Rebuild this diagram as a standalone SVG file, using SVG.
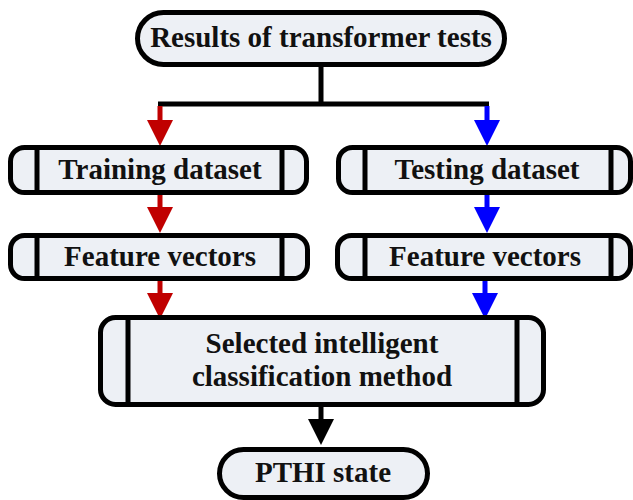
<svg xmlns="http://www.w3.org/2000/svg" width="633" height="500" viewBox="0 0 633 500">
  <style>
    .box { fill: #edf0f5; stroke: #000; stroke-width: 5; }
    .div { stroke: #000; stroke-width: 5; }
    .lbl { font-family: "Liberation Serif", "Times New Roman", serif; font-weight: bold; font-size: 29px; fill: #111; text-anchor: middle; }
    .ln { fill: none; stroke-width: 5; }
    .red { stroke: #c00000; }
    .blue { stroke: #0000ff; }
    .blk { stroke: #000; }
  </style>
  <defs>
    <marker id="ahRed" viewBox="0 0 26 26" markerWidth="26" markerHeight="26" markerUnits="userSpaceOnUse" refX="16" refY="13" orient="auto">
      <path d="M0,0 L26,13 L0,26 Z" fill="#c00000"/>
    </marker>
    <marker id="ahBlue" viewBox="0 0 26 26" markerWidth="26" markerHeight="26" markerUnits="userSpaceOnUse" refX="16" refY="13" orient="auto">
      <path d="M0,0 L26,13 L0,26 Z" fill="#0000ff"/>
    </marker>
    <marker id="ahBlack" viewBox="0 0 26 26" markerWidth="26" markerHeight="26" markerUnits="userSpaceOnUse" refX="16" refY="13" orient="auto">
      <path d="M0,0 L26,13 L0,26 Z" fill="#000"/>
    </marker>
  </defs>

  <g id="connectors">
    <path class="ln blk" d="M321,67 V104 M158,104 H489"/>
    <line class="ln red" x1="160" y1="106" x2="160" y2="136" marker-end="url(#ahRed)"/>
    <line class="ln blue" x1="487" y1="106" x2="487" y2="136" marker-end="url(#ahBlue)"/>
    <line class="ln red" x1="160" y1="195" x2="160" y2="223" marker-end="url(#ahRed)"/>
    <line class="ln blue" x1="487" y1="195" x2="487" y2="223" marker-end="url(#ahBlue)"/>
    <line class="ln red" x1="160" y1="281" x2="160" y2="309" marker-end="url(#ahRed)"/>
    <line class="ln blue" x1="485" y1="281" x2="485" y2="309" marker-end="url(#ahBlue)"/>
    <line class="ln blk" x1="321" y1="407" x2="321" y2="435" marker-end="url(#ahBlack)"/>
  </g>

  <g id="results">
    <rect class="box" x="137.5" y="12.5" width="367" height="52" rx="26"/>
    <text class="lbl" x="321" y="47">Results of transformer tests</text>
  </g>

  <g id="training">
    <rect class="box" x="10.5" y="147.5" width="296" height="45" rx="14"/>
    <line class="div" x1="37" y1="147.5" x2="37" y2="192.5"/>
    <line class="div" x1="282" y1="147.5" x2="282" y2="192.5"/>
    <text class="lbl" x="160" y="179">Training dataset</text>
  </g>

  <g id="testing">
    <rect class="box" x="338.5" y="147.5" width="292" height="45" rx="14"/>
    <line class="div" x1="365" y1="147.5" x2="365" y2="192.5"/>
    <line class="div" x1="611" y1="147.5" x2="611" y2="192.5"/>
    <text class="lbl" x="487" y="179">Testing dataset</text>
  </g>

  <g id="features-left">
    <rect class="box" x="10.5" y="235.5" width="297" height="43" rx="14"/>
    <line class="div" x1="37" y1="235.5" x2="37" y2="278.5"/>
    <line class="div" x1="282" y1="235.5" x2="282" y2="278.5"/>
    <text class="lbl" x="160" y="266">Feature vectors</text>
  </g>

  <g id="features-right">
    <rect class="box" x="337.5" y="235.5" width="293" height="43" rx="14"/>
    <line class="div" x1="365" y1="235.5" x2="365" y2="278.5"/>
    <line class="div" x1="611" y1="235.5" x2="611" y2="278.5"/>
    <text class="lbl" x="485" y="266">Feature vectors</text>
  </g>

  <g id="classifier">
    <rect class="box" x="100.5" y="317.5" width="443" height="87" rx="15"/>
    <line class="div" x1="128" y1="317.5" x2="128" y2="404.5"/>
    <line class="div" x1="517" y1="317.5" x2="517" y2="404.5"/>
    <text class="lbl" x="322" y="353">Selected intelligent</text>
    <text class="lbl" x="322" y="386">classification method</text>
  </g>

  <g id="pthi">
    <rect class="box" x="219.5" y="449.5" width="208" height="48" rx="24"/>
    <text class="lbl" x="323" y="482">PTHI state</text>
  </g>
</svg>
